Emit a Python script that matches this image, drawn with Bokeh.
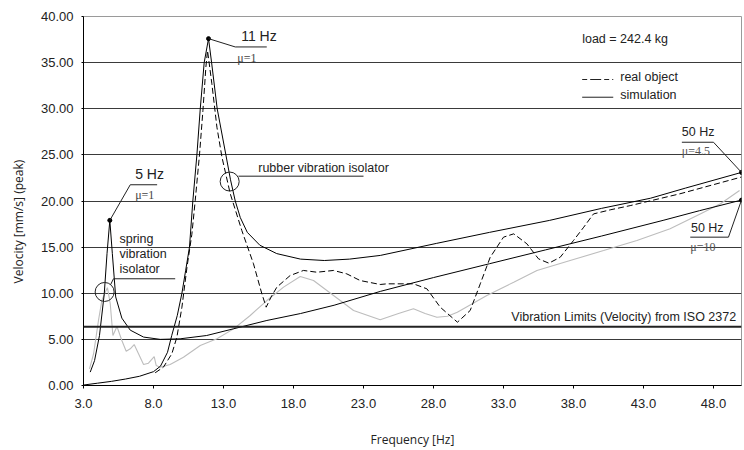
from bokeh.plotting import figure
from bokeh.models import Label, Span, FixedTicker, NumeralTickFormatter, Title
from bokeh.embed import file_html
from bokeh.resources import INLINE

# ---------------- data ----------------
x_ticks = [3, 8, 13, 18, 23, 28, 33, 38, 43, 48]
y_ticks = [0, 5, 10, 15, 20, 25, 30, 35, 40]

# simulation, rubber vibration isolator (solid)
sim_rubber_f = [3.0, 4.0, 5.0, 6.0, 7.0, 8.0, 8.5, 9.0, 9.3, 9.7, 10.03, 10.3, 10.57, 10.81,
                11.1, 11.34, 11.62, 11.93, 12.15, 12.55, 13.17, 13.5, 13.84, 14.2, 14.7,
                15.6, 16.8, 18.5, 20.2, 22.0, 24.2, 28.2, 32.0, 36.3, 40.0, 43.5, 46.0, 50.0]
sim_rubber_v = [0.05, 0.25, 0.45, 0.7, 1.0, 1.5, 2.1, 3.6, 5.4, 7.6, 10.0, 12.5, 15.0, 20.0,
                25.0, 30.0, 35.0, 37.6, 35.0, 30.0, 25.0, 22.3, 20.0, 18.2, 16.6,
                15.2, 14.3, 13.7, 13.55, 13.7, 14.1, 15.4, 16.6, 17.9, 19.2, 20.3, 21.4, 23.1]

# simulation, spring vibration isolator (solid)
sim_spring_f = [3.48, 3.79, 4.14, 4.48, 4.68, 4.88, 5.06, 5.3, 5.74, 6.34, 7.29, 8.48, 9.9,
                11.8, 13.7, 16.1, 18.5, 20.9, 24.2, 28.0, 32.0, 36.0, 40.0, 44.4, 47.0, 50.0]
sim_spring_v = [1.45, 2.7, 5.4, 9.9, 14.3, 17.9, 14.3, 9.6, 7.3, 6.0, 5.25, 5.0, 5.06,
                5.42, 6.14, 7.05, 7.8, 8.7, 10.2, 11.7, 13.2, 14.7, 16.2, 17.9, 18.95, 20.1]

# real object, rubber vibration isolator (dashed)
real_rubber_f = [8.12, 8.71, 9.31, 9.67, 10.03, 10.39, 10.74, 10.98, 11.29, 11.53, 11.74, 11.86,
                 12.17, 12.53, 12.89, 13.48, 14.31, 15.14, 15.74, 16.05, 16.39, 16.81, 17.76,
                 18.71, 19.67, 20.86, 21.81, 22.76, 24.19, 24.67, 26.57, 27.53, 28.48, 29.71,
                 30.62, 31.34, 32.05, 33.0, 33.73, 34.67, 35.5, 36.24, 37.05, 38.0, 38.73,
                 39.43, 40.62, 42.05, 45.6, 50.0]
real_rubber_v = [1.38, 1.99, 3.44, 5.24, 8.49, 12.8, 16.4, 20.05, 25.1, 29.8, 34.5, 36.3,
                 32.7, 28.0, 24.75, 20.8, 16.8, 13.2, 9.94, 8.49, 9.57, 10.66, 11.92,
                 12.47, 12.28, 12.47, 12.1, 11.38, 10.95, 11.02, 11.02, 10.48, 8.49, 6.86,
                 8.13, 11.02, 13.9, 16.08, 16.44, 15.36, 13.73, 13.26, 13.9, 15.72, 17.16,
                 18.6, 19.04, 19.5, 20.78, 22.6]

# real object, spring vibration isolator (grey)
real_spring_f = [3.43, 3.72, 4.07, 4.31, 4.55, 4.71, 4.91, 5.1, 5.39, 5.74, 6.05, 6.34, 6.62,
                 6.93, 7.29, 7.64, 8.05, 8.19, 8.48, 9.19, 10.14, 11.34, 12.53, 13.72, 14.91,
                 16.1, 17.29, 18.48, 19.43, 20.86, 22.29, 24.19, 25.5, 26.57, 27.4, 28.24,
                 29.0, 29.7, 31.81, 33.73, 35.39, 37.76, 40.15, 42.53, 44.9, 47.05, 48.5, 49.86]
real_spring_v = [1.81, 3.44, 7.05, 9.21, 10.1, 10.6, 8.86, 5.42, 6.4, 4.88, 3.72, 3.98, 4.44,
                 3.44, 2.28, 2.42, 3.14, 2.17, 1.99, 2.28, 3.07, 4.34, 5.06, 6.14, 7.59,
                 9.21, 10.66, 11.82, 11.38, 9.76, 8.13, 7.12, 7.8, 8.31, 7.8, 7.4,
                 7.5, 7.95, 9.76, 11.2, 12.47, 13.55, 14.63, 15.72, 16.99, 18.6, 19.7, 21.14]

iso_limit = 6.36  # ISO 2372 velocity limit (peak)

# ---------------- figure ----------------
p = figure(width=744, height=450, x_range=(3, 50), y_range=(0, 40),
           output_backend="svg", toolbar_location=None,
           min_border_left=0, min_border_right=3, min_border_top=16, min_border_bottom=65)
p.background_fill_color = "white"
p.border_fill_color = "white"
p.outline_line_color = "#9a9a9a"
p.outline_line_width = 1

p.xgrid.visible = False
p.ygrid.ticker = FixedTicker(ticks=y_ticks[1:-1])
p.ygrid.grid_line_color = "#3a3a3a"
p.ygrid.grid_line_width = 1

for ax in (p.xaxis[0], p.yaxis[0]):
    ax.axis_line_color = "black"
    ax.major_tick_line_color = "black"
    ax.minor_tick_line_color = None
    ax.major_tick_in = 0
    ax.major_label_text_font = "Liberation Sans"
    ax.major_label_text_font_size = "13px"
    ax.major_label_text_color = "#222222"
    ax.axis_label_text_font = "Open Sans"
    ax.axis_label_text_font_size = "12px"
    ax.axis_label_text_font_style = "normal"
    ax.axis_label_text_color = "#222222"

p.xaxis.ticker = FixedTicker(ticks=x_ticks)
p.xaxis.formatter = NumeralTickFormatter(format="0.0")
p.xaxis.major_tick_out = 3
p.xaxis.major_label_standoff = 10
p.xaxis.axis_label = "Frequency [Hz]"
p.xaxis.axis_label_standoff = 20

p.yaxis.ticker = FixedTicker(ticks=y_ticks)
p.yaxis.formatter = NumeralTickFormatter(format="0.00")
p.yaxis.major_tick_out = 2
p.yaxis.major_label_standoff = 8

# y axis title as a side title (start of text placed along the side)
p.add_layout(Title(text="Velocity [mm/s] (peak)", align="left", offset=102,
                   vertical_align="top", standoff=18,
                   text_font="Open Sans", text_font_size="12px",
                   text_font_style="normal", text_color="#222222"), "left")

# ISO limit
p.add_layout(Span(location=iso_limit, dimension="width", line_color="#222222", line_width=2))

# curves
p.line(real_spring_f, real_spring_v, line_color="#bdbdbd", line_width=1.1)
p.line(real_rubber_f, real_rubber_v, line_color="black", line_width=1, line_dash="6 3")
p.line(sim_spring_f, sim_spring_v, line_color="black", line_width=1)
p.line(sim_rubber_f, sim_rubber_v, line_color="black", line_width=1)

# marked points (resonance peaks and 50 Hz ends of the simulations)
def peak_below(fs, vs, fmax):
    idx = [i for i, f in enumerate(fs) if f < fmax]
    i = max(idx, key=lambda k: vs[k])
    return fs[i], vs[i]

pk_r = peak_below(sim_rubber_f, sim_rubber_v, 20)
pk_s = peak_below(sim_spring_f, sim_spring_v, 8)
end_r = (sim_rubber_f[-1], sim_rubber_v[-1])
end_s = (sim_spring_f[-1], sim_spring_v[-1])
p.scatter([pk_r[0], pk_s[0], end_r[0], end_s[0]], [pk_r[1], pk_s[1], end_r[1], end_s[1]],
          size=4, color="black")

# leader lines and underlines
lc = "#222222"
def seg(x0, y0, x1, y1, dash="solid"):
    p.segment(x0=[x0], y0=[y0], x1=[x1], y1=[y1], line_color=lc, line_width=1, line_dash=dash)

# 11 Hz
seg(pk_r[0], pk_r[1], 13.84, 36.7)
seg(13.84, 36.7, 16.09, 36.7)
# 5 Hz
seg(pk_s[0], pk_s[1], 6.34, 21.76)
seg(6.34, 21.76, 8.26, 21.76)
# 50 Hz upper
seg(end_r[0], end_r[1], 48.0, 26.37)
seg(45.74, 26.37, 48.0, 26.37)
# 50 Hz lower
seg(end_s[0], end_s[1], 49.07, 16.08)
seg(46.34, 16.08, 49.07, 16.08)
# spring vibration isolator
seg(4.94, 10.95, 5.14, 11.57)
seg(5.14, 11.57, 9.55, 11.57)
# rubber vibration isolator
seg(14.07, 22.69, 23.0, 22.69)

# circles
p.scatter([4.51, 13.44], [10.14, 22.11], marker="circle", size=19,
          fill_color=None, line_color="#222222", line_width=1)

# legend (manual, no box)
seg(38.62, 33.17, 40.84, 33.17, dash="5 3 11 3")
seg(38.62, 31.25, 40.84, 31.25)

def lab(x, y, text, size="12.5px", font="Liberation Sans", color="#222222", align="left"):
    p.add_layout(Label(x=x, y=y, text=text, text_font=font, text_font_size=size,
                       text_color=color, text_align=align, text_baseline="middle"))

lab(38.62, 37.51, "load = 242.4 kg")
lab(41.34, 33.39, "real object")
lab(41.34, 31.44, "simulation")

lab(14.26, 37.91, "11 Hz", size="14px")
lab(13.98, 35.45, "\u03bc=1", size="12px", font="Liberation Serif", color="#444444")
lab(6.69, 22.95, "5 Hz", size="14px")
lab(6.69, 20.6, "\u03bc=1", size="12px", font="Liberation Serif", color="#444444")
lab(45.74, 27.46, "50 Hz", size="12.5px")
lab(45.74, 25.47, "\u03bc=4.5", size="12px", font="Liberation Serif", color="#555555")
lab(46.39, 17.1, "50 Hz", size="12.5px")
lab(46.34, 14.99, "\u03bc=10", size="12px", font="Liberation Serif", color="#555555")

lab(5.57, 15.83, "spring")
lab(5.57, 14.28, "vibration")
lab(5.57, 12.65, "isolator")
lab(15.48, 23.63, "rubber vibration isolator")
lab(49.62, 7.40, "Vibration Limits (Velocity) from ISO 2372", align="right")

open("out.html", "w").write(file_html(p, INLINE))
